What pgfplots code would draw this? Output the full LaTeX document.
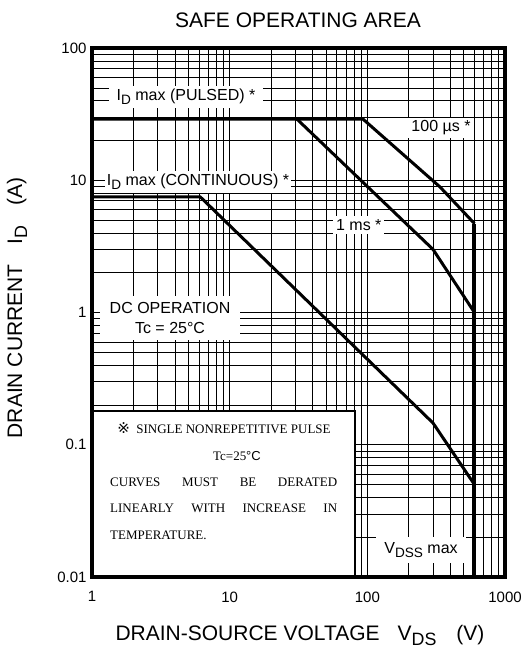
\documentclass[border=0pt]{standalone}
\usepackage{fontspec}
\setmainfont{Liberation Sans}
\newfontfamily\serifnote{Liberation Serif}
\newfontfamily\dejavu{DejaVu Sans}
\usepackage{graphicx}
\usepackage{pgfplots}
\pgfplotsset{compat=1.18}
\newcommand\sub[1]{\raisebox{-0.45ex}{\scalebox{0.85}{#1}}}
\newcommand\lbl{\fontsize{16}{18}\selectfont}
\begin{document}
\begin{tikzpicture}
\useasboundingbox (0,0) rectangle (521pt,653pt);
\begin{axis}[
  at={(92pt,76pt)}, anchor=south west, scale only axis,
  width=413pt, height=529pt,
  xmode=log, ymode=log, xmin=1, xmax=1000, ymin=0.01, ymax=100,
  xtick={1,10,100,1000}, xticklabels={1,10,100,1000},
  ytick={0.01,0.1,1,10,100}, yticklabels={0.01,0.1,1,10,100},
  grid=both,
  major grid style={black, line width=0.6pt},
  minor grid style={black, line width=0.6pt},
  major tick length=0pt, minor tick length=0pt,
  tick label style={font=\fontsize{15}{15}\selectfont},
  xticklabel style={yshift=-11pt},
  yticklabel style={xshift=-2pt},
  axis line style={line width=3.2pt},
  clip=false,
]
% 100 us curve incl. pulsed limit
\addplot[black, line width=3pt] coordinates {(1,29) (93,29) (337,8.9) (600,4.7)};
% 1 ms
\addplot[black, line width=3pt] coordinates {(30.8,29) (300,3) (600,1)};
% DC
\addplot[black, line width=3pt] coordinates {(1,7.5) (6.1,7.5) (300,0.146) (600,0.05)};
% VDSS max
\addplot[black, line width=4pt] coordinates {(600,4.7) (600,0.01)};

% labels
\node[fill=white, inner xsep=8pt, inner ysep=3pt, font=\lbl] at (axis description cs:0.2276,0.9074) {I\sub{D} max (PULSED) *};
\node[fill=white, inner xsep=2pt, inner ysep=3pt, font=\lbl] at (axis description cs:0.2567,0.7467) {I\sub{D} max (CONTINUOUS) *};
\node[fill=white, inner xsep=3pt, inner ysep=3pt, font=\lbl] at (axis description cs:0.646,0.6654) {1 ms *};
\node[fill=white, inner xsep=3pt, inner ysep=3pt, font=\lbl] at (axis description cs:0.845,0.8488) {100 µs *};
\node[fill=white, inner xsep=10pt, inner ysep=6pt, font=\lbl, align=center] at (axis description cs:0.1889,0.4896) {DC OPERATION\\[2pt]Tc = 25°C};
\node[fill=white, inner xsep=8pt, inner ysep=6pt, font=\lbl] at (axis description cs:0.7966,0.051) {V\sub{DSS} max};

% note box
\fill[white] ([xshift=1.6pt,yshift=1.6pt]axis description cs:0,0) rectangle (axis description cs:0.637,0.3138);
\draw[line width=1.6pt] ([xshift=-0.5pt]axis description cs:0,0.3138) -| (axis description cs:0.637,0);
\begin{scope}[every node/.style={font=\serifnote\fontsize{13}{13}\selectfont, inner sep=0pt}]
\node at (axis description cs:0.3196,0.2817) {{\dejavu\fontsize{15}{15}\selectfont ※}\ \ SINGLE NONREPETITIVE PULSE};
\node at (axis description cs:0.351,0.2287) {Tc=25{\fontspec{Liberation Sans}°C}};
\node[anchor=west] at (axis description cs:0.0436,0.1796) {\makebox[227pt][s]{CURVES MUST BE DERATED}};
\node[anchor=west] at (axis description cs:0.0436,0.1305) {\makebox[227pt][s]{LINEARLY WITH INCREASE IN}};
\node[anchor=west] at (axis description cs:0.0436,0.0794) {TEMPERATURE.};
\end{scope}

% titles
\node[font=\fontsize{21}{21}\selectfont] at (axis description cs:0.4988,1.0529) {SAFE OPERATING AREA};
\node[font=\fontsize{21}{21}\selectfont] at (axis description cs:0.5036,-0.1096) {DRAIN-SOURCE VOLTAGE\hspace{18pt}V\sub{DS}\hspace{20pt}(V)};
\node[font=\fontsize{21}{21}\selectfont, rotate=90] at (axis description cs:-0.1816,0.5085) {DRAIN CURRENT\hspace{20pt}I\sub{D}\hspace{20pt}(A)};
\end{axis}
\end{tikzpicture}
\end{document}
